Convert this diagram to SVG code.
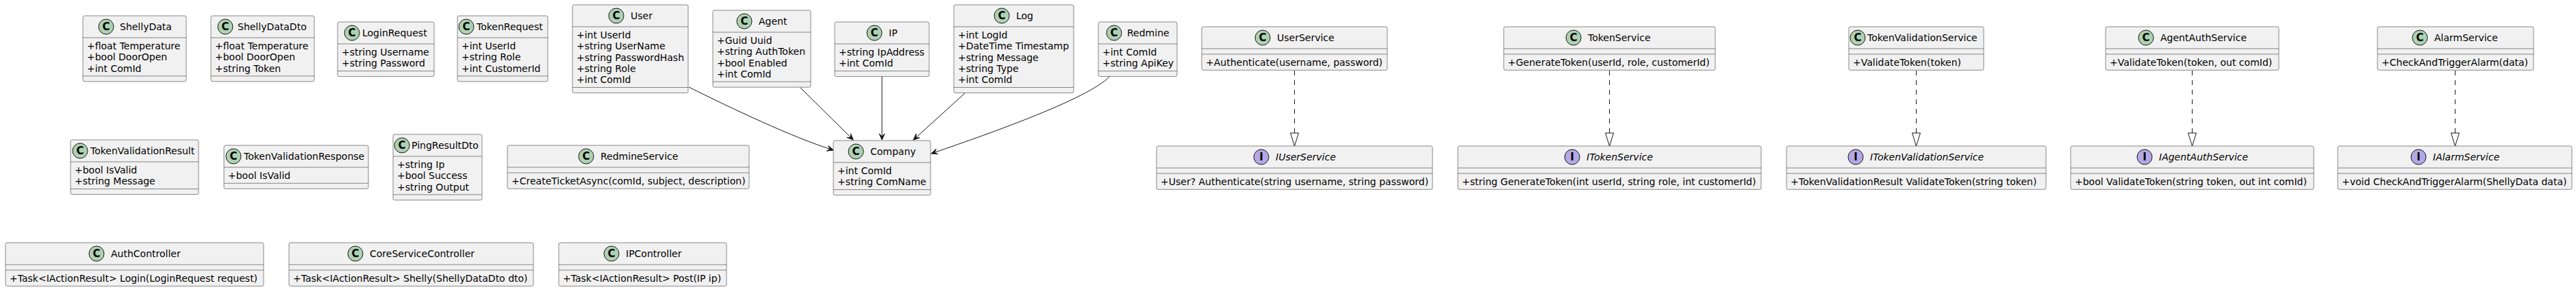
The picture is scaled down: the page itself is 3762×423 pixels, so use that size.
<svg xmlns="http://www.w3.org/2000/svg" width="3762" height="423" viewBox="0 0 3762 423">
<style>
.box{fill:#F1F1F1;stroke:#181818;stroke-width:0.5}
.sep{stroke:#181818;stroke-width:0.5}
.t{font-family:"DejaVu Sans","Liberation Sans",sans-serif;font-size:14px;fill:#000000}
.it{font-style:italic}
.cc{fill:#ADD1B2;stroke:#181818;stroke-width:1}
.ic{fill:#B4A7E5;stroke:#181818;stroke-width:1}
.cl{font-family:"DejaVu Sans","Liberation Sans",sans-serif;font-size:15px;font-weight:bold;fill:#000000;text-anchor:middle}
.assoc{fill:none;stroke:#181818;stroke-width:1}
.real{fill:none;stroke:#181818;stroke-width:1;stroke-dasharray:7,7}
</style>
<defs>
<marker id="arr" viewBox="-10 -5 11 10" refX="0" refY="0" markerWidth="11" markerHeight="10" orient="auto" markerUnits="userSpaceOnUse"><path d="M0,0 L-9,-4 L-5,0 L-9,4 Z" fill="#181818" stroke="#181818" stroke-width="1"/></marker>
<marker id="tri" viewBox="-20 -7 21 14" refX="0" refY="0" markerWidth="21" markerHeight="14" orient="auto" markerUnits="userSpaceOnUse"><path d="M0,0 L-19,-6 L-19,6 Z" fill="#FFFFFF" stroke="#181818" stroke-width="1"/></marker>
</defs>
<rect width="3762" height="423" fill="#FFFFFF"/>

<g id="connectors">
<path class="assoc" d="M1006,127 C1066,157 1159,201 1217,219" marker-end="url(#arr)"/>
<path class="assoc" d="M1169,128 L1246,204" marker-end="url(#arr)"/>
<path class="assoc" d="M1288,111 L1288,204" marker-end="url(#arr)"/>
<path class="assoc" d="M1409,136 L1334,204" marker-end="url(#arr)"/>
<path class="assoc" d="M1621,111 C1590,145 1430,200 1360,224" marker-end="url(#arr)"/>
<path class="real" d="M1890.5,103 L1890.5,213" marker-end="url(#tri)"/>
<path class="real" d="M2350.5,103 L2350.5,213" marker-end="url(#tri)"/>
<path class="real" d="M2798.5,103 L2798.5,213" marker-end="url(#tri)"/>
<path class="real" d="M3201.5,103 L3201.5,213" marker-end="url(#tri)"/>
<path class="real" d="M3585.5,103 L3585.5,213" marker-end="url(#tri)"/>
</g>

<g id="ShellyData">
<rect class="box" x="121" y="23" width="151" height="95.9" rx="2.5"/>
<line class="sep" x1="121" y1="55" x2="272" y2="55"/><line class="sep" x1="121" y1="110.9" x2="272" y2="110.9"/>
<circle class="cc" cx="155" cy="39" r="11"/><text class="cl" x="155" y="44">C</text>
<text class="t" x="175" y="44">ShellyData</text>
<text class="t" x="127" y="72">+float Temperature</text><text class="t" x="127" y="88.3">+bool DoorOpen</text><text class="t" x="127" y="104.6">+int ComId</text>
</g>

<g id="ShellyDataDto">
<rect class="box" x="308" y="23" width="151" height="95.9" rx="2.5"/>
<line class="sep" x1="308" y1="55" x2="459" y2="55"/><line class="sep" x1="308" y1="110.9" x2="459" y2="110.9"/>
<circle class="cc" cx="329" cy="39" r="11"/><text class="cl" x="329" y="44">C</text>
<text class="t" x="347" y="44">ShellyDataDto</text>
<text class="t" x="314" y="72">+float Temperature</text><text class="t" x="314" y="88.3">+bool DoorOpen</text><text class="t" x="314" y="104.6">+string Token</text>
</g>

<g id="LoginRequest">
<rect class="box" x="493" y="32" width="141" height="79.6" rx="2.5"/>
<line class="sep" x1="493" y1="64" x2="634" y2="64"/><line class="sep" x1="493" y1="103.6" x2="634" y2="103.6"/>
<circle class="cc" cx="514" cy="48" r="11"/><text class="cl" x="514" y="53">C</text>
<text class="t" x="529" y="53">LoginRequest</text>
<text class="t" x="499" y="81">+string Username</text><text class="t" x="499" y="97.3">+string Password</text>
</g>

<g id="TokenRequest">
<rect class="box" x="668" y="23" width="132" height="95.9" rx="2.5"/>
<line class="sep" x1="668" y1="55" x2="800" y2="55"/><line class="sep" x1="668" y1="110.9" x2="800" y2="110.9"/>
<circle class="cc" cx="681" cy="39" r="11"/><text class="cl" x="681" y="44">C</text>
<text class="t" x="696" y="44">TokenRequest</text>
<text class="t" x="674" y="72">+int UserId</text><text class="t" x="674" y="88.3">+string Role</text><text class="t" x="674" y="104.6">+int CustomerId</text>
</g>

<g id="User">
<rect class="box" x="836" y="7" width="169" height="128.5" rx="2.5"/>
<line class="sep" x1="836" y1="39" x2="1005" y2="39"/><line class="sep" x1="836" y1="127.5" x2="1005" y2="127.5"/>
<circle class="cc" cx="900" cy="23" r="11"/><text class="cl" x="900" y="28">C</text>
<text class="t" x="921" y="28">User</text>
<text class="t" x="842" y="56">+int UserId</text><text class="t" x="842" y="72.3">+string UserName</text><text class="t" x="842" y="88.6">+string PasswordHash</text><text class="t" x="842" y="104.9">+string Role</text><text class="t" x="842" y="121.2">+int ComId</text>
</g>

<g id="Agent">
<rect class="box" x="1041" y="15" width="143" height="112.2" rx="2.5"/>
<line class="sep" x1="1041" y1="47" x2="1184" y2="47"/><line class="sep" x1="1041" y1="119.2" x2="1184" y2="119.2"/>
<circle class="cc" cx="1087" cy="31" r="11"/><text class="cl" x="1087" y="36">C</text>
<text class="t" x="1108" y="36">Agent</text>
<text class="t" x="1047" y="64">+Guid Uuid</text><text class="t" x="1047" y="80.3">+string AuthToken</text><text class="t" x="1047" y="96.6">+bool Enabled</text><text class="t" x="1047" y="112.9">+int ComId</text>
</g>

<g id="IP">
<rect class="box" x="1219" y="32" width="138" height="79.6" rx="2.5"/>
<line class="sep" x1="1219" y1="64" x2="1357" y2="64"/><line class="sep" x1="1219" y1="103.6" x2="1357" y2="103.6"/>
<circle class="cc" cx="1277" cy="48" r="11"/><text class="cl" x="1277" y="53">C</text>
<text class="t" x="1298" y="53">IP</text>
<text class="t" x="1225" y="81">+string IpAddress</text><text class="t" x="1225" y="97.3">+int ComId</text>
</g>

<g id="Log">
<rect class="box" x="1393" y="7" width="175" height="128.5" rx="2.5"/>
<line class="sep" x1="1393" y1="39" x2="1568" y2="39"/><line class="sep" x1="1393" y1="127.5" x2="1568" y2="127.5"/>
<circle class="cc" cx="1463" cy="23" r="11"/><text class="cl" x="1463" y="28">C</text>
<text class="t" x="1484" y="28">Log</text>
<text class="t" x="1399" y="56">+int LogId</text><text class="t" x="1399" y="72.3">+DateTime Timestamp</text><text class="t" x="1399" y="88.6">+string Message</text><text class="t" x="1399" y="104.9">+string Type</text><text class="t" x="1399" y="121.2">+int ComId</text>
</g>

<g id="Redmine">
<rect class="box" x="1604" y="32" width="115" height="79.6" rx="2.5"/>
<line class="sep" x1="1604" y1="64" x2="1719" y2="64"/><line class="sep" x1="1604" y1="103.6" x2="1719" y2="103.6"/>
<circle class="cc" cx="1627" cy="48" r="11"/><text class="cl" x="1627" y="53">C</text>
<text class="t" x="1646" y="53">Redmine</text>
<text class="t" x="1610" y="81">+int ComId</text><text class="t" x="1610" y="97.3">+string ApiKey</text>
</g>

<g id="Company">
<rect class="box" x="1217" y="205" width="142" height="79.6" rx="2.5"/>
<line class="sep" x1="1217" y1="237" x2="1359" y2="237"/><line class="sep" x1="1217" y1="276.6" x2="1359" y2="276.6"/>
<circle class="cc" cx="1250" cy="221" r="11"/><text class="cl" x="1250" y="226">C</text>
<text class="t" x="1271" y="226">Company</text>
<text class="t" x="1223" y="254">+int ComId</text><text class="t" x="1223" y="270.3">+string ComName</text>
</g>

<g id="UserService">
<rect class="box" x="1755" y="39" width="271" height="63.3" rx="2.5"/>
<line class="sep" x1="1755" y1="71" x2="2026" y2="71"/><line class="sep" x1="1755" y1="79" x2="2026" y2="79"/>
<circle class="cc" cx="1844" cy="55" r="11"/><text class="cl" x="1844" y="60">C</text>
<text class="t" x="1865" y="60">UserService</text>
<text class="t" x="1761" y="96">+Authenticate(username, password)</text>
</g>

<g id="TokenService">
<rect class="box" x="2196" y="39" width="309" height="63.3" rx="2.5"/>
<line class="sep" x1="2196" y1="71" x2="2505" y2="71"/><line class="sep" x1="2196" y1="79" x2="2505" y2="79"/>
<circle class="cc" cx="2298" cy="55" r="11"/><text class="cl" x="2298" y="60">C</text>
<text class="t" x="2319" y="60">TokenService</text>
<text class="t" x="2202" y="96">+GenerateToken(userId, role, customerId)</text>
</g>

<g id="TokenValidationService">
<rect class="box" x="2700" y="39" width="197" height="63.3" rx="2.5"/>
<line class="sep" x1="2700" y1="71" x2="2897" y2="71"/><line class="sep" x1="2700" y1="79" x2="2897" y2="79"/>
<circle class="cc" cx="2713" cy="55" r="11"/><text class="cl" x="2713" y="60">C</text>
<text class="t" x="2727" y="60">TokenValidationService</text>
<text class="t" x="2706" y="96">+ValidateToken(token)</text>
</g>

<g id="AgentAuthService">
<rect class="box" x="3075" y="39" width="253" height="63.3" rx="2.5"/>
<line class="sep" x1="3075" y1="71" x2="3328" y2="71"/><line class="sep" x1="3075" y1="79" x2="3328" y2="79"/>
<circle class="cc" cx="3134" cy="55" r="11"/><text class="cl" x="3134" y="60">C</text>
<text class="t" x="3155" y="60">AgentAuthService</text>
<text class="t" x="3081" y="96">+ValidateToken(token, out comId)</text>
</g>

<g id="AlarmService">
<rect class="box" x="3472" y="39" width="228" height="63.3" rx="2.5"/>
<line class="sep" x1="3472" y1="71" x2="3700" y2="71"/><line class="sep" x1="3472" y1="79" x2="3700" y2="79"/>
<circle class="cc" cx="3534" cy="55" r="11"/><text class="cl" x="3534" y="60">C</text>
<text class="t" x="3555" y="60">AlarmService</text>
<text class="t" x="3478" y="96">+CheckAndTriggerAlarm(data)</text>
</g>

<g id="IUserService">
<rect class="box" x="1689" y="213" width="403" height="63.3" rx="2.5"/>
<line class="sep" x1="1689" y1="245" x2="2092" y2="245"/><line class="sep" x1="1689" y1="253" x2="2092" y2="253"/>
<circle class="ic" cx="1842" cy="229" r="11"/><text class="cl" x="1842" y="234">I</text>
<text class="t it" x="1863" y="234">IUserService</text>
<text class="t" x="1695" y="270">+User? Authenticate(string username, string password)</text>
</g>

<g id="ITokenService">
<rect class="box" x="2129" y="213" width="443" height="63.3" rx="2.5"/>
<line class="sep" x1="2129" y1="245" x2="2572" y2="245"/><line class="sep" x1="2129" y1="253" x2="2572" y2="253"/>
<circle class="ic" cx="2296" cy="229" r="11"/><text class="cl" x="2296" y="234">I</text>
<text class="t it" x="2317" y="234">ITokenService</text>
<text class="t" x="2135" y="270">+string GenerateToken(int userId, string role, int customerId)</text>
</g>

<g id="ITokenValidationService">
<rect class="box" x="2609" y="213" width="379" height="63.3" rx="2.5"/>
<line class="sep" x1="2609" y1="245" x2="2988" y2="245"/><line class="sep" x1="2609" y1="253" x2="2988" y2="253"/>
<circle class="ic" cx="2710" cy="229" r="11"/><text class="cl" x="2710" y="234">I</text>
<text class="t it" x="2731" y="234">ITokenValidationService</text>
<text class="t" x="2615" y="270">+TokenValidationResult ValidateToken(string token)</text>
</g>

<g id="IAgentAuthService">
<rect class="box" x="3024" y="213" width="355" height="63.3" rx="2.5"/>
<line class="sep" x1="3024" y1="245" x2="3379" y2="245"/><line class="sep" x1="3024" y1="253" x2="3379" y2="253"/>
<circle class="ic" cx="3132" cy="229" r="11"/><text class="cl" x="3132" y="234">I</text>
<text class="t it" x="3153" y="234">IAgentAuthService</text>
<text class="t" x="3030" y="270">+bool ValidateToken(string token, out int comId)</text>
</g>

<g id="IAlarmService">
<rect class="box" x="3414" y="213" width="342" height="63.3" rx="2.5"/>
<line class="sep" x1="3414" y1="245" x2="3756" y2="245"/><line class="sep" x1="3414" y1="253" x2="3756" y2="253"/>
<circle class="ic" cx="3532" cy="229" r="11"/><text class="cl" x="3532" y="234">I</text>
<text class="t it" x="3553" y="234">IAlarmService</text>
<text class="t" x="3420" y="270">+void CheckAndTriggerAlarm(ShellyData data)</text>
</g>

<g id="TokenValidationResult">
<rect class="box" x="103" y="204" width="187" height="79.6" rx="2.5"/>
<line class="sep" x1="103" y1="236" x2="290" y2="236"/><line class="sep" x1="103" y1="275.6" x2="290" y2="275.6"/>
<circle class="cc" cx="117" cy="220" r="11"/><text class="cl" x="117" y="225">C</text>
<text class="t" x="132" y="225">TokenValidationResult</text>
<text class="t" x="109" y="253">+bool IsValid</text><text class="t" x="109" y="269.3">+string Message</text>
</g>

<g id="TokenValidationResponse">
<rect class="box" x="327" y="212" width="211" height="63.3" rx="2.5"/>
<line class="sep" x1="327" y1="244" x2="538" y2="244"/><line class="sep" x1="327" y1="267.3" x2="538" y2="267.3"/>
<circle class="cc" cx="341" cy="228" r="11"/><text class="cl" x="341" y="233">C</text>
<text class="t" x="356" y="233">TokenValidationResponse</text>
<text class="t" x="333" y="261">+bool IsValid</text>
</g>

<g id="PingResultDto">
<rect class="box" x="574" y="196" width="130" height="95.9" rx="2.5"/>
<line class="sep" x1="574" y1="228" x2="704" y2="228"/><line class="sep" x1="574" y1="283.9" x2="704" y2="283.9"/>
<circle class="cc" cx="587" cy="212" r="11"/><text class="cl" x="587" y="217">C</text>
<text class="t" x="601" y="217">PingResultDto</text>
<text class="t" x="580" y="245">+string Ip</text><text class="t" x="580" y="261.3">+bool Success</text><text class="t" x="580" y="277.6">+string Output</text>
</g>

<g id="RedmineService">
<rect class="box" x="741" y="212" width="353" height="63.3" rx="2.5"/>
<line class="sep" x1="741" y1="244" x2="1094" y2="244"/><line class="sep" x1="741" y1="252" x2="1094" y2="252"/>
<circle class="cc" cx="856" cy="228" r="11"/><text class="cl" x="856" y="233">C</text>
<text class="t" x="877" y="233">RedmineService</text>
<text class="t" x="747" y="269">+CreateTicketAsync(comId, subject, description)</text>
</g>

<g id="AuthController">
<rect class="box" x="8" y="354" width="377" height="63.3" rx="2.5"/>
<line class="sep" x1="8" y1="386" x2="385" y2="386"/><line class="sep" x1="8" y1="394" x2="385" y2="394"/>
<circle class="cc" cx="141" cy="370" r="11"/><text class="cl" x="141" y="375">C</text>
<text class="t" x="162" y="375">AuthController</text>
<text class="t" x="14" y="411">+Task&lt;IActionResult&gt; Login(LoginRequest request)</text>
</g>

<g id="CoreServiceController">
<rect class="box" x="422" y="354" width="357" height="63.3" rx="2.5"/>
<line class="sep" x1="422" y1="386" x2="779" y2="386"/><line class="sep" x1="422" y1="394" x2="779" y2="394"/>
<circle class="cc" cx="519" cy="370" r="11"/><text class="cl" x="519" y="375">C</text>
<text class="t" x="540" y="375">CoreServiceController</text>
<text class="t" x="428" y="411">+Task&lt;IActionResult&gt; Shelly(ShellyDataDto dto)</text>
</g>

<g id="IPController">
<rect class="box" x="816" y="354" width="245" height="63.3" rx="2.5"/>
<line class="sep" x1="816" y1="386" x2="1061" y2="386"/><line class="sep" x1="816" y1="394" x2="1061" y2="394"/>
<circle class="cc" cx="893" cy="370" r="11"/><text class="cl" x="893" y="375">C</text>
<text class="t" x="914" y="375">IPController</text>
<text class="t" x="822" y="411">+Task&lt;IActionResult&gt; Post(IP ip)</text>
</g>
</svg>
